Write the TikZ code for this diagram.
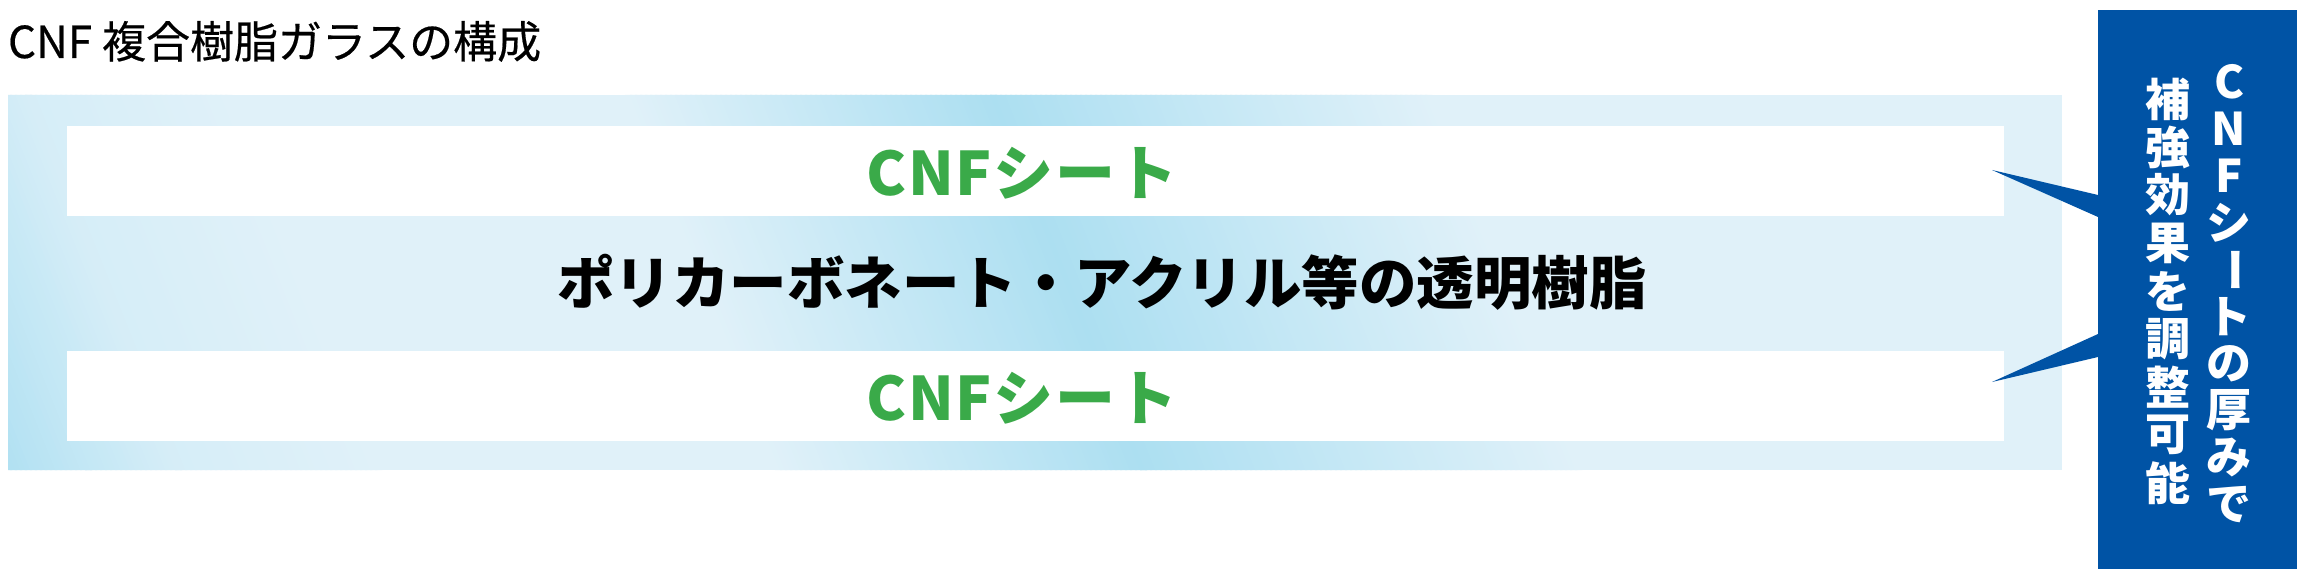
\documentclass[tikz,border=0pt]{standalone}
\usepackage{fontspec}
\setmainfont{Noto Sans CJK JP}
\usepackage{graphicx}
\definecolor{cnfgreen}{RGB}{58,170,73}
\definecolor{cnfblue}{RGB}{0,83,165}
\definecolor{bandlight}{RGB}{224,241,249}
\definecolor{banddark}{RGB}{172,223,241}
\newcommand\bandseg[4]{%
  \pgfmathsetmacro\bsnext{#1+5}%
  \foreach \s in {#1,\bsnext,...,#2}{%
    \pgfmathsetmacro\bp{#3+((#4-#3)/((#2)-(#1)))*(\s-(#1))}%
    \fill[banddark!\bp!bandlight] (\s-75,95) -- (\s-68,95) -- (\s+82,470) -- (\s+75,470) -- cycle;
  }}
\tikzset{
  plain/.style={inner sep=0pt, outer sep=0pt},
  sheet/.style={plain, fill=white, minimum width=1937pt, minimum height=90pt},
  sheettext/.style={plain, text=cnfgreen, font=\fontsize{60}{60}\selectfont\bfseries\addfontfeature{LetterSpace=3}},
  resintext/.style={plain, text=black, font=\fontsize{57.5}{58}\selectfont\bfseries},
  colchar/.style={plain, text=white, font=\fontsize{45}{45}\selectfont\bfseries},
}
\begin{document}
\begin{tikzpicture}[x=1pt,y=-1pt]
\useasboundingbox[fill=white] (0,0) rectangle (2304,577);
% title
\node[plain, anchor=base west, font=\fontsize{44}{50}\selectfont\addfontfeature{FakeBold=0.4}] (title) at (8,58) {CNF 複合樹脂ガラスの構成};
% layered glass
\node[plain, minimum width=2054pt, minimum height=375pt] (glass) at (1035,282.5) {};
\begin{scope}
  \clip (glass.north west) rectangle (glass.south east);
  \fill[bandlight] (glass.north west) rectangle (glass.south east);
  \bandseg{-90}{10}{100}{55}
  \bandseg{10}{100}{55}{20}
  \bandseg{100}{300}{20}{0}
  \bandseg{700}{1065}{0}{100}
  \bandseg{1065}{1500}{100}{0}
\end{scope}
\node[sheet] (sheetA) at (1035.5,171) {};
\node[sheet] (sheetB) at (1035.5,396) {};
\node[sheettext] (cnfA) at (1022,173) {CNFシート};
\node[sheettext] (cnfB) at (1022,398) {CNFシート};
\node[resintext] (resin) at (1102,282) {ポリカーボネート・アクリル等の透明樹脂};
% note box
\node[plain, fill=cnfblue, minimum width=199pt, minimum height=559pt] (note) at (2197.5,289.5) {};
\coordinate (tipA) at (1992,170);
\coordinate (baseA1) at (2099,195);
\coordinate (baseA2) at (2099,217);
\coordinate (tipB) at (1992,382);
\coordinate (baseB1) at (2099,334);
\coordinate (baseB2) at (2099,357);
\fill[cnfblue] (tipA) -- (note.west |- baseA1) -- (note.west |- baseA2) -- cycle;
\fill[cnfblue] (tipB) -- (note.west |- baseB1) -- (note.west |- baseB2) -- cycle;
\foreach \ch [count=\i from 0] in {C,N,F,シ,{\rotatebox[origin=c]{-90}{ー}},ト,の,厚,み,で}
  \node[colchar] (r\i) at (2229,82+46.9*\i) {\ch};
\foreach \ch [count=\i from 0] in {補,強,効,果,を,調,整,可,能}
  \node[colchar] (l\i) at (2168,99+48*\i) {\ch};
\end{tikzpicture}
\end{document}
